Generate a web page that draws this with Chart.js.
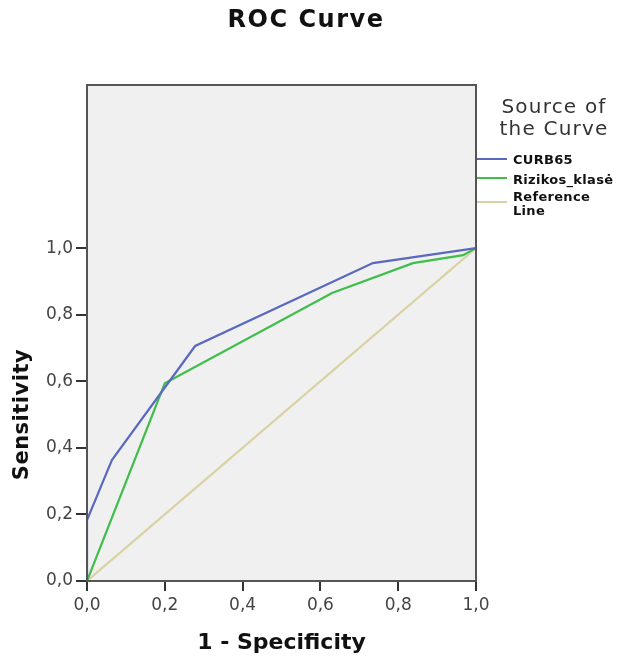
<!DOCTYPE html>
<html lang="en">
  <head>
    <meta charset="utf-8" />
    <title>ROC Curve</title>
    <style>
      * {
        margin: 0;
        padding: 0;
      }
      body {
        background: white;
      }
      .chartBox {
        width: 621px;
        height: 658px;
      }
    </style>
  </head>
  <body>
    <div class="chartBox">
      <canvas id="myChart"></canvas>
    </div>
    <script src="https://cdn.jsdelivr.net/npm/chart.js"></script>
    <script>
      // data (1 - specificity / sensitivity)
      const curbX = [0, 0, 0.064, 0.278, 0.735, 1];
      const curbY = [0, 0.183, 0.363, 0.706, 0.955, 1];
      const riskX = [0, 0.2, 0.63, 0.838, 0.967, 1];
      const riskY = [0, 0.594, 0.865, 0.955, 0.979, 1];
      const refX = [0, 1];
      const refY = [0, 1];
      const tickVals = [0, 0.2, 0.4, 0.6, 0.8, 1.0];
      const seriesNames = ["CURB65", "Rizikos_klasė", "Reference Line"];

      const FONT = "'DejaVu Sans', Verdana, sans-serif";
      const fmt = (v) => Number(v).toFixed(1).replace(".", ",");
      const pts = (xs, ys) => xs.map((x, i) => ({ x: x, y: ys[i] }));

      const data = {
        datasets: [
          {
            label: seriesNames[0],
            data: pts(curbX, curbY),
            borderColor: "#5a69c0",
            borderWidth: 2.2,
            pointRadius: 0,
            showLine: true,
          },
          {
            label: seriesNames[1],
            data: pts(riskX, riskY),
            borderColor: "#3fbe4c",
            borderWidth: 2.2,
            pointRadius: 0,
            showLine: true,
          },
          {
            label: seriesNames[2],
            data: pts(refX, refY),
            borderColor: "#d9d2a4",
            borderWidth: 2.2,
            pointRadius: 0,
            showLine: true,
          },
        ],
      };

      // background, frame, titles and legend
      const spssLook = {
        id: "spssLook",
        beforeDatasetsDraw(chart) {
          const { ctx, chartArea: a } = chart;
          ctx.save();
          ctx.fillStyle = "#f0f0f0";
          ctx.fillRect(a.left, a.top, a.right - a.left, a.bottom - a.top);
          ctx.restore();
        },
        afterDraw(chart) {
          const { ctx, chartArea: a, scales } = chart;
          ctx.save();
          ctx.strokeStyle = "#555";
          ctx.lineWidth = 2;
          ctx.strokeRect(a.left, a.top, a.right - a.left, a.bottom - a.top);

          ctx.fillStyle = "#111";
          ctx.textAlign = "center";
          ctx.textBaseline = "middle";
          ctx.letterSpacing = "1.5px";
          ctx.font = "bold 24px " + FONT;
          ctx.fillText("ROC Curve", 306, 21);

          // y axis title, centred on the 0..1 range
          const yMid = (scales.y.getPixelForValue(0) + scales.y.getPixelForValue(1)) / 2;
          ctx.save();
          ctx.translate(23, yMid);
          ctx.rotate(-Math.PI / 2);
          ctx.letterSpacing = "0.5px";
          ctx.font = "bold 21px " + FONT;
          ctx.fillText("Sensitivity", 0, 0);
          ctx.restore();

          // legend
          ctx.fillStyle = "#333";
          ctx.letterSpacing = "1.2px";
          ctx.font = "20px " + FONT;
          ctx.fillText("Source of", 554, 108);
          ctx.fillText("the Curve", 554, 130);

          ctx.textAlign = "left";
          ctx.letterSpacing = "0.3px";
          ctx.font = "bold 13px " + FONT;
          const rows = [[161], [181], [198, 212]];
          const lineYs = [159, 178, 202];
          chart.data.datasets.forEach((ds, i) => {
            ctx.strokeStyle = ds.borderColor;
            ctx.lineWidth = 2;
            ctx.beginPath();
            ctx.moveTo(477, lineYs[i]);
            ctx.lineTo(507, lineYs[i]);
            ctx.stroke();
            ctx.fillStyle = "#111";
            const parts = rows[i].length > 1 ? ds.label.split(" ") : [ds.label];
            parts.forEach((t, j) => ctx.fillText(t, 513, rows[i][j]));
          });
          ctx.restore();
        },
      };

      const config = {
        type: "scatter",
        data,
        options: {
          responsive: false,
          animation: false,
          layout: { padding: { top: 85, right: 145, left: 0, bottom: 0 } },
          plugins: {
            legend: { display: false },
            tooltip: { enabled: false },
          },
          scales: {
            x: {
              type: "linear",
              min: 0,
              max: 1,
              afterFit: (s) => {
                s.height = 77;
              },
              afterBuildTicks: (s) => {
                s.ticks = tickVals.map((v) => ({ value: v }));
              },
              grid: {
                drawOnChartArea: false,
                tickLength: 10,
                color: "#333",
                lineWidth: 2,
              },
              border: { color: "#555", width: 2 },
              ticks: {
                callback: (v) => fmt(v),
                font: { family: FONT, size: 17 },
                color: "#444",
                padding: 4,
                maxRotation: 0,
              },
              title: {
                display: true,
                text: "1 - Specificity",
                font: { family: FONT, size: 22, weight: "bold" },
                color: "#111",
                padding: { top: 0, bottom: 2 },
              },
            },
            y: {
              type: "linear",
              min: 0,
              max: 1.49,
              afterFit: (s) => {
                s.width = 87;
              },
              afterBuildTicks: (s) => {
                s.ticks = tickVals.map((v) => ({ value: v }));
              },
              grid: {
                drawOnChartArea: false,
                tickLength: 11,
                color: "#333",
                lineWidth: 2,
              },
              border: { color: "#555", width: 2 },
              ticks: {
                callback: (v) => fmt(v),
                font: { family: FONT, size: 17 },
                color: "#444",
                padding: 3,
              },
            },
          },
        },
        plugins: [spssLook],
      };

      const canvas = document.getElementById("myChart");
      canvas.width = 621;
      canvas.height = 658;
      const myChart = new Chart(canvas, config);
    </script>
  </body>
</html>
